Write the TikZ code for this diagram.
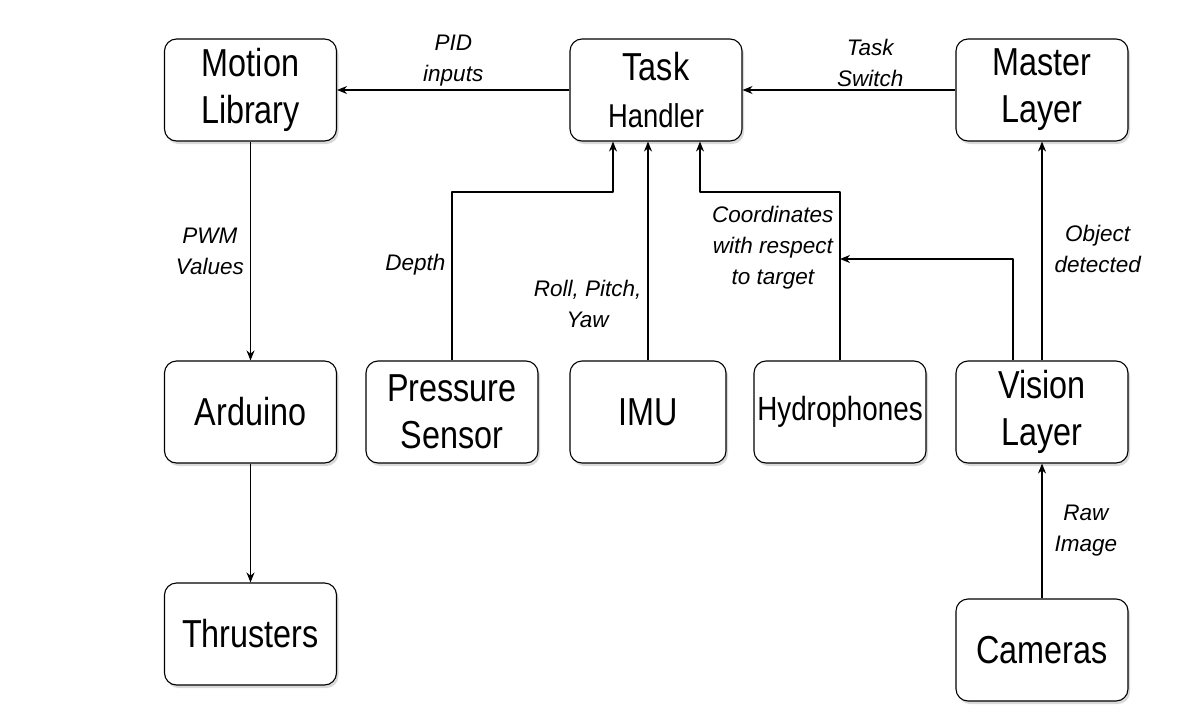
\documentclass[tikz,border=0pt]{standalone}
\usepackage{fontspec}
\setmainfont{Liberation Sans}
\newfontfamily\boxfont[FakeStretch=0.83]{Liberation Sans}
\usetikzlibrary{arrows.meta,calc,shadows}

\begin{document}
\begin{tikzpicture}[x=1pt,y=-1pt,>={Stealth[length=10pt,width=8pt]},line join=round,
  box/.style={draw,line width=1.1pt,rounded corners=12pt,minimum width=172pt,minimum height=102pt,
    align=center,fill=white,inner sep=2pt,
    drop shadow={shadow xshift=2pt,shadow yshift=-3pt,opacity=.3},
    font=\boxfont\fontsize{39}{47}\selectfont},
  link/.style={->,line width=1.1pt},
  lbl/.style={font=\itshape\fontsize{22.5}{31}\selectfont,align=center,inner sep=6pt}]
  \useasboundingbox (0,0) rectangle (1200,720);
  \node[box] (motion) at (250.5,90) {Motion\\Library};
  \node[box] (task) at (656,90) {Task\\\fontsize{33}{40}\selectfont Handler};
  \node[box] (master) at (1042,90) {Master\\Layer};
  \node[box] (arduino) at (250.5,412) {Arduino};
  \node[box] (press) at (452,412) {Pressure\\Sensor};
  \node[box,minimum width=156pt] (imu) at (648,412) {IMU};
  \node[box,font=\boxfont\fontsize{33.5}{40}\selectfont] (hydro) at (840,412) {Hydrophones};
  \node[box] (vision) at (1042,412) {Vision\\Layer};
  \node[box] (thrusters) at (250.5,634) {Thrusters};
  \node[box] (cameras) at (1042,650) {Cameras};
  \coordinate (hjoin) at (hydro.north |- 0,259);
  \draw[link] (task.west) -- node[lbl,above,inner sep=3pt]{PID\\inputs} (motion.east);
  \draw[link] (master.west) -- node[lbl,above,inner sep=3pt,pos=.4]{Task\\Switch} (task.east);
  \draw[link] (motion.south) -- node[lbl,left]{PWM\\Values} (arduino.north);
  \draw[link] (arduino.south) -- (thrusters.north);
  \draw[link] (press.north) -- node[lbl,left,pos=.57]{Depth} (press.north |- 0,192)
    -| ([xshift=-43pt]task.south);
  \draw[link] (imu.north) -- node[lbl,left,pos=.26]{Roll, Pitch,\\Yaw} (imu.north |- task.south);
  \draw[link] (hydro.north) -- node[lbl,left,pos=.67]{Coordinates\\with respect\\to target} (hydro.north |- 0,192)
    -| ([xshift=44pt]task.south);
  \draw[link] ([xshift=-29pt]vision.north) |- (hjoin);
  \draw[link] (vision.north) -- node[lbl,right,pos=.51,inner sep=12pt]{Object\\detected} (master.south);
  \draw[link] (cameras.north) -- node[lbl,right,inner sep=12pt]{Raw\\Image} (vision.south);
\end{tikzpicture}
\end{document}
